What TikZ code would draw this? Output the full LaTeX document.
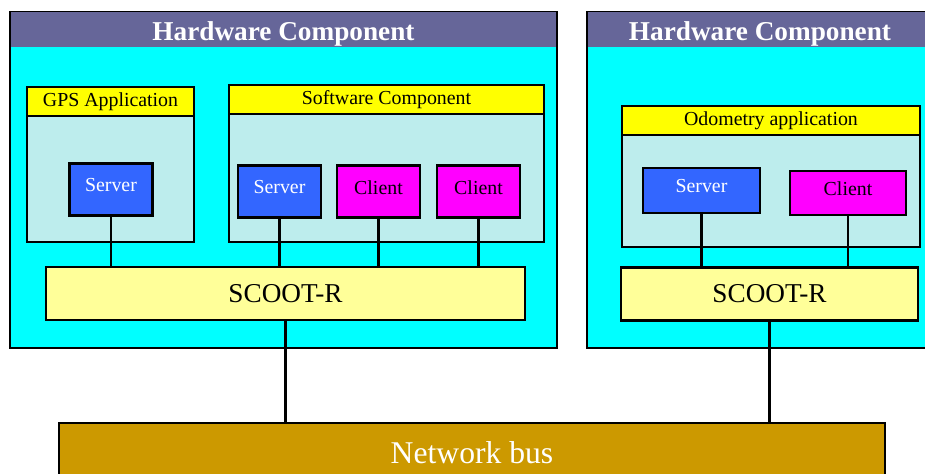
\documentclass[tikz,border=0pt]{standalone}
\usepackage{fontspec}
\setmainfont{Liberation Serif}
\usepackage{tikz}
\usetikzlibrary{positioning}
\definecolor{headblue}{HTML}{666699}
\definecolor{hwcyan}{HTML}{00FFFF}
\definecolor{appcyan}{HTML}{BDEDED}
\definecolor{headyellow}{HTML}{FFFF00}
\definecolor{mwyellow}{HTML}{FFFF99}
\definecolor{srvblue}{HTML}{3366FF}
\definecolor{climagenta}{HTML}{FF00FF}
\definecolor{busbrown}{HTML}{CC9900}

\begin{document}
\begin{tikzpicture}[
    every node/.style={font=\fontsize{11.3}{13}\selectfont, inner sep=0pt},
    hwbox/.style={rectangle, draw=black, line width=1.2pt, fill=hwcyan, minimum height=6.72cm},
    hwtitle/.style={rectangle, fill=headblue, text=white, minimum height=0.72cm-0.6pt,
        text height=0.56cm, font=\fontsize{15.5}{18}\selectfont\bfseries},
    appbox/.style={rectangle, draw=black, line width=1.2pt, fill=appcyan},
    apptitle/.style={rectangle, draw=black, line width=1.2pt, fill=headyellow, minimum height=0.58cm},
    srv/.style={rectangle, draw=black, line width=1.2pt, fill=srvblue, text=white,
        minimum width=1.66cm, minimum height=1.04cm, text depth=0.2cm},
    cli/.style={rectangle, draw=black, line width=1.2pt, fill=climagenta,
        minimum width=1.66cm, minimum height=1.04cm, text depth=0.16cm},
    mw/.style={rectangle, draw=black, line width=1.2pt, fill=mwyellow, minimum height=1.06cm,
        font=\fontsize{15.5}{18}\selectfont},
    bus/.style={rectangle, draw=black, line width=1.2pt, fill=busbrown, text=white,
        minimum width=16.52cm, minimum height=1.2cm, font=\fontsize{18}{21}\selectfont},
    link/.style={draw=black, line width=1.4pt}
]
\useasboundingbox (0,0) rectangle (18.5,9.46);
\clip (0,0) rectangle (18.5,9.46);

% HARDWARE COMPONENTS
\node[hwbox, minimum width=10.94cm] (hwl) at (5.67,5.86) {};
\node[hwbox, minimum width=6.92cm]  (hwr) at (15.2,5.86) {};
\node[hwtitle, minimum width=10.94cm-1.2pt, anchor=north] (hwltitle) at ([yshift=-0.6pt]hwl.north) {Hardware Component};
\node[hwtitle, minimum width=6.92cm-1.2pt, anchor=north]  (hwrtitle) at ([yshift=-0.6pt]hwr.north) {Hardware Component};

% APPLICATIONS
\node[appbox, minimum width=3.34cm, minimum height=3.1cm]  (gps) at (2.21,6.17) {};
\node[appbox, minimum width=6.3cm,  minimum height=3.14cm] (sw)  at (7.73,6.19) {};
\node[appbox, minimum width=5.96cm, minimum height=2.82cm] (odo) at (15.42,5.93) {};
\node[apptitle, minimum width=3.34cm, anchor=north] (gpstitle) at (gps.north) {GPS Application};
\node[apptitle, minimum width=6.3cm,  anchor=north] (swtitle)  at (sw.north)  {Software Component};
\node[apptitle, minimum width=5.96cm, anchor=north] (odotitle) at (odo.north) {Odometry application};

% SERVERS AND CLIENTS
\node[srv] (gpssrv) at (2.22,5.67) {Server};
\node[srv] (swsrv)  at (5.59,5.63) {Server};
\node[cli] (swcli1) at (7.57,5.63) {Client};
\node[cli] (swcli2) at (9.57,5.63) {Client};
\node[srv, minimum width=2.34cm, minimum height=0.9cm]  (odosrv) at (14.03,5.65) {Server};
\node[cli, minimum width=2.32cm, minimum height=0.88cm] (odocli) at (16.96,5.6)  {Client};

% SCOOT-R
\node[mw, minimum width=9.58cm] (scootl) at (5.71,3.59) {SCOOT-R};
\node[mw, minimum width=5.94cm] (scootr) at (15.39,3.58) {SCOOT-R};

% BUS
\node[bus] (bus) at (9.44,0.4) {Network bus};

% LINES
\draw[link] (gpssrv) -- (gpssrv |- scootl.north);
\draw[link] (swsrv)  -- (swsrv |- scootl.north);
\draw[link] (swcli1) -- (swcli1 |- scootl.north);
\draw[link] (swcli2) -- (swcli2 |- scootl.north);
\draw[link] (odosrv) -- (odosrv |- scootr.north);
\draw[link] (odocli) -- (odocli |- scootr.north);
\draw[link] (scootl) -- (scootl |- bus.north);
\draw[link] (scootr) -- (scootr |- bus.north);

\end{tikzpicture}
\end{document}
